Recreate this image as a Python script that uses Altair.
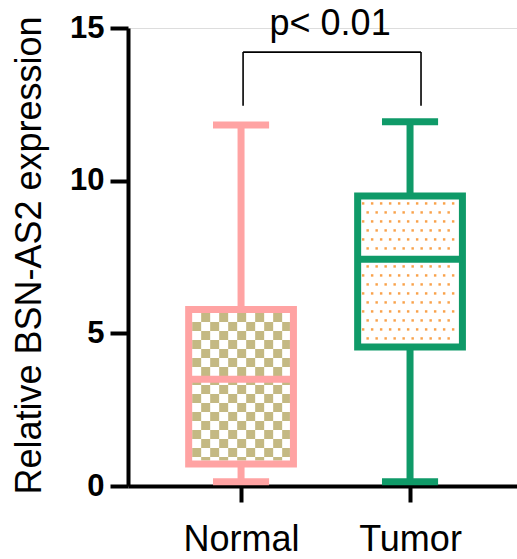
import altair as alt
import pandas as pd

# ---- data ----
groups = ["Normal", "Tumor"]
positions = [1, 2]
mins = [0.14, 0.14]
q1s = [0.72, 4.55]
medians = [3.50, 7.43]
q3s = [5.78, 9.50]
maxs = [11.82, 11.93]
colors = ["#FFA3A3", "#0F9A68"]
y_ticks = [0, 5, 10, 15]
p_label = "p< 0.01"

# ---- layout / style constants ----
X_DOMAIN = [0.331, 2.633]
Y_DOMAIN = [0, 15]
W, H = 389, 458
PX_X = (X_DOMAIN[1] - X_DOMAIN[0]) / W   # data units per pixel
PX_Y = (Y_DOMAIN[1] - Y_DOMAIN[0]) / H
HALF_BOX = 0.31
HALF_CAP = 0.166
SW = 7
FONT = "Liberation Sans"

box = pd.DataFrame({
    "group": groups, "pos": positions, "min": mins, "q1": q1s,
    "median": medians, "q3": q3s, "max": maxs,
})
box["left"] = box["pos"] - HALF_BOX
box["right"] = box["pos"] + HALF_BOX
box["capl"] = box["pos"] - HALF_CAP
box["capr"] = box["pos"] + HALF_CAP

# ---- texture: checkerboard (Normal) and dots (Tumor) inside the boxes ----
cell = 9
checker, dots = [], []
for _, r in box.iterrows():
    x0 = r["left"] + (SW / 2) * PX_X
    x1 = r["right"] - (SW / 2) * PX_X
    y0 = r["q1"] + (SW / 2) * PX_Y
    y1 = r["q3"] - (SW / 2) * PX_Y
    if r["group"] == "Normal":
        i = 0
        xa = x0
        while xa < x1 - 1e-9:
            j = 0
            yb = y1
            while yb > y0 + 1e-9:
                if (i + j) % 2 == 1:
                    checker.append({"x": xa, "x2": min(xa + cell * PX_X, x1),
                                    "y": max(yb - cell * PX_Y, y0), "y2": yb})
                yb -= cell * PX_Y
                j += 1
            xa += cell * PX_X
            i += 1
    else:
        j = 0
        yy = y1 - 4 * PX_Y
        while yy > y0 + 2 * PX_Y:
            off = 2 if j % 2 == 0 else 6.5
            xx = x0 + off * PX_X
            while xx < x1 - 1.5 * PX_X:
                dots.append({"x": xx, "y": yy})
                xx += cell * PX_X
            yy -= cell * PX_Y
            j += 1
checker = pd.DataFrame(checker)
dots = pd.DataFrame(dots)

xs = alt.Scale(domain=X_DOMAIN, nice=False, zero=False)
ys = alt.Scale(domain=Y_DOMAIN, nice=False)
cscale = alt.Scale(domain=groups, range=colors)

x_axis = alt.Axis(
    values=positions, labelExpr="datum.value == 1 ? 'Normal' : 'Tumor'",
    domainColor="black", domainWidth=4, tickColor="black", tickWidth=4,
    tickSize=16, labelFont=FONT, labelFontSize=36, labelColor="black",
    labelPadding=20, grid=False, labelFlush=False,
)
y_axis = alt.Axis(
    values=y_ticks, domainColor="black", domainWidth=4, tickColor="black",
    tickWidth=4, tickSize=18, labelFont=FONT, labelFontSize=31,
    labelFontWeight="bold", labelColor="black", labelPadding=6, grid=False,
    title="Relative BSN-AS2 expression", titleFont=FONT, titleFontSize=36,
    titleFontWeight="normal", titleColor="black", titleAngle=-90,
    titleAlign="center", titleBaseline="alphabetic", titleX=-88, titleY=227,
)

tex_checker = alt.Chart(checker).mark_rect(color="#C4B983").encode(
    x=alt.X("x:Q", scale=xs, axis=x_axis, title=None),
    x2="x2:Q",
    y=alt.Y("y:Q", scale=ys, axis=y_axis),
    y2="y2:Q",
)
tex_dots = alt.Chart(dots).mark_square(color="#F9A24B", size=6, opacity=1).encode(
    x=alt.X("x:Q", scale=xs), y=alt.Y("y:Q", scale=ys),
)

base = alt.Chart(box)
rects = base.mark_rect(fill="transparent", strokeWidth=SW).encode(
    x=alt.X("left:Q", scale=xs), x2="right:Q",
    y=alt.Y("q1:Q", scale=ys), y2="q3:Q",
    stroke=alt.Color("group:N", scale=cscale, legend=None),
)
upper = base.mark_rule(strokeWidth=SW).encode(
    x=alt.X("pos:Q", scale=xs), y=alt.Y("q3:Q", scale=ys), y2="max:Q",
    color=alt.Color("group:N", scale=cscale, legend=None),
)
lower = base.mark_rule(strokeWidth=SW).encode(
    x=alt.X("pos:Q", scale=xs), y=alt.Y("min:Q", scale=ys), y2="q1:Q",
    color=alt.Color("group:N", scale=cscale, legend=None),
)
cap_top = base.mark_rule(strokeWidth=SW).encode(
    x=alt.X("capl:Q", scale=xs), x2="capr:Q", y=alt.Y("max:Q", scale=ys),
    color=alt.Color("group:N", scale=cscale, legend=None),
)
cap_bot = base.mark_rule(strokeWidth=SW).encode(
    x=alt.X("capl:Q", scale=xs), x2="capr:Q", y=alt.Y("min:Q", scale=ys),
    color=alt.Color("group:N", scale=cscale, legend=None),
)
med = base.mark_rule(strokeWidth=SW).encode(
    x=alt.X("left:Q", scale=xs), x2="right:Q", y=alt.Y("median:Q", scale=ys),
    color=alt.Color("group:N", scale=cscale, legend=None),
)

# significance bracket annotation
br_left, br_right, br_top, br_bottom = 1.012, 2.065, 14.21, 12.45
bracket = pd.DataFrame({
    "x": [br_left, br_left, br_right],
    "x2": [br_right, br_left, br_right],
    "y": [br_top, br_bottom, br_bottom],
    "y2": [br_top, br_top, br_top],
})
br = alt.Chart(bracket).mark_rule(color="black", strokeWidth=1.6).encode(
    x=alt.X("x:Q", scale=xs), x2="x2:Q", y=alt.Y("y:Q", scale=ys), y2="y2:Q",
)
ptext = alt.Chart(pd.DataFrame({"x": [1.527], "y": [14.77], "t": [p_label]})).mark_text(
    font=FONT, fontSize=36, color="black", align="center", baseline="alphabetic"
).encode(x=alt.X("x:Q", scale=xs), y=alt.Y("y:Q", scale=ys), text="t:N")

chart = alt.layer(
    tex_checker, tex_dots, rects, upper, lower, cap_top, cap_bot, med, br, ptext
).properties(
    width=W, height=H,
    autosize=alt.AutoSizeParams(type="none"),
    padding={"left": 128, "top": 28, "right": 0, "bottom": 73},
).configure_view(stroke=None).configure(background="white")

chart.save("out.html", embed_options={"renderer": "svg", "actions": False})
